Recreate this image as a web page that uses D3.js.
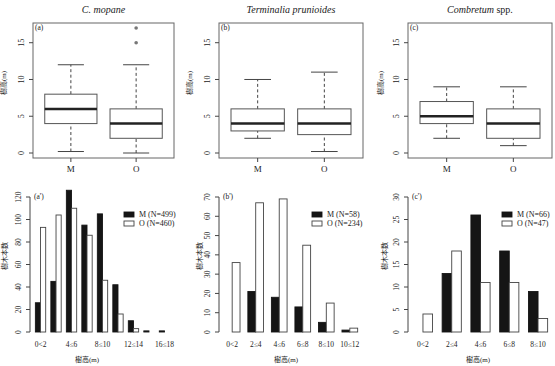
<!DOCTYPE html>
<html>
<head>
<meta charset="utf-8">
<script src="https://cdn.jsdelivr.net/npm/d3@7"></script>
<style>
body { margin: 0; background: #fff; }
svg text { font-family: "Liberation Serif", "Noto Sans CJK JP", serif; fill: #222; }
</style>
</head>
<body>
<svg id="chart" width="555" height="366"></svg>
<script>
// ---- box plots: [lower whisker, Q1, median, Q3, upper whisker] for M and O
var boxGroups = ["M", "O"];
var mopaneBox = [[0.2, 4, 6, 8, 12], [0, 2, 4, 6, 12]];
var mopaneOut = [[], [15, 17]];
var termBox = [[2, 3, 4, 6, 10], [0.2, 2.5, 4, 6, 11]];
var termOut = [[], []];
var combBox = [[2, 4, 5, 7, 9], [1, 2, 4, 6, 9]];
var combOut = [[], []];
var boxTicks = [0, 5, 10, 15];
var boxRange = [0, 17];

// ---- height class histograms (number of trees)
var mopaneClasses = ["0<2", "2≤4", "4≤6", "6≤8", "8≤10", "10≤12", "12≤14", "14≤16", "16≤18"];
var mopaneTickLabels = ["0<2", "", "4≤6", "", "8≤10", "", "12≤14", "", "16≤18"];
var mopaneM = [26, 45, 126, 95, 105, 42, 10, 1, 1];
var mopaneO = [93, 104, 110, 86, 46, 16, 3, 0, 0];
var mopaneTicks = [0, 20, 40, 60, 80, 100, 120];
var mopaneLegend = ["M (N=499)", "O (N=460)"];

var termClasses = ["0<2", "2≤4", "4≤6", "6≤8", "8≤10", "10≤12"];
var termM = [0, 21, 18, 13, 5, 1];
var termO = [36, 67, 69, 45, 15, 2];
var termTicks = [0, 10, 20, 30, 40, 50, 60, 70];
var termLegend = ["M (N=58)", "O (N=234)"];

var combClasses = ["0<2", "2≤4", "4≤6", "6≤8", "8≤10"];
var combM = [0, 13, 26, 18, 9];
var combO = [4, 18, 11, 11, 3];
var combTicks = [0, 5, 10, 15, 20, 25, 30];
var combLegend = ["M (N=66)", "O (N=47)"];

var svg = d3.select("#chart");

//top row layout
var boxTop = 23, boxBottom = 158;
var boxPanels = [
  {title: [["C. mopane", true]], label: "(a)", stats: mopaneBox, out: mopaneOut, left: 33, right: 174, ytx: 4},
  {title: [["Terminalia prunioides", true]], label: "(b)", stats: termBox, out: termOut, left: 219, right: 363, ytx: 190},
  {title: [["Combretum", true], [" spp.", false]], label: "(c)", stats: combBox, out: combOut, left: 408, right: 552, ytx: 381}
];

//bottom row layout
var barZero = 332, barTopTick = 197;
var barPanels = [
  {label: "(a')", classes: mopaneClasses, tickLabels: mopaneTickLabels, m: mopaneM, o: mopaneO, ticks: mopaneTicks, legend: mopaneLegend, left: 30, right: 175, ytx: 5, xtx: 87},
  {label: "(b')", classes: termClasses, tickLabels: termClasses, m: termM, o: termO, ticks: termTicks, legend: termLegend, left: 219, right: 363, ytx: 200, xtx: 286},
  {label: "(c')", classes: combClasses, tickLabels: combClasses, m: combM, o: combO, ticks: combTicks, legend: combLegend, left: 408, right: 553, ytx: 385, xtx: 478}
];

boxPanels.forEach(drawBoxPanel);
barPanels.forEach(drawBarPanel);

//R style 4% axis extension
function extend(lo, hi) {
  var d = (hi - lo) * 0.04;
  return [lo - d, hi + d];
}

function drawBoxPanel(p) {
  var g = svg.append("g");
  var x = d3.scaleLinear().domain(extend(0.5, boxGroups.length + 0.5)).range([p.left, p.right]);
  var y = d3.scaleLinear().domain(extend(boxRange[0], boxRange[1])).range([boxBottom, boxTop]);
  var bw = x(1.4) - x(1); //half box width

  //title
  var t = g.append("text")
    .attr("x", (p.left + p.right) / 2)
    .attr("y", 12.5)
    .attr("text-anchor", "middle")
    .style("font-size", "10px");
  p.title.forEach(function(part) {
    t.append("tspan").text(part[0]).style("font-style", part[1] ? "italic" : "normal");
  });

  //frame
  g.append("rect")
    .attr("x", p.left).attr("y", boxTop)
    .attr("width", p.right - p.left).attr("height", boxBottom - boxTop)
    .attr("fill", "none").attr("stroke", "#666").attr("stroke-width", 1);

  g.append("text").text(p.label)
    .attr("x", p.left + 2).attr("y", 30)
    .style("font-size", "7.5px");

  //y axis ticks
  boxTicks.forEach(function(v) {
    g.append("line")
      .attr("x1", p.left - 4).attr("x2", p.left)
      .attr("y1", y(v)).attr("y2", y(v))
      .attr("stroke", "#444");
    g.append("text").text(v)
      .attr("transform", "translate(" + (p.left - 12) + "," + y(v) + ") rotate(-90)")
      .attr("dy", "0.35em")
      .attr("text-anchor", "middle")
      .style("font-size", "8px");
  });
  g.append("text").text("樹高(m)")
    .attr("transform", "translate(" + p.ytx + "," + 83 + ") rotate(-90)")
    .attr("dy", "0.35em")
    .attr("text-anchor", "middle")
    .style("font-size", "7px");

  p.stats.forEach(function(s, i) {
    var cx = x(i + 1);
    //x tick and label
    g.append("line")
      .attr("x1", cx).attr("x2", cx)
      .attr("y1", boxBottom).attr("y2", boxBottom + 4)
      .attr("stroke", "#444");
    g.append("text").text(boxGroups[i])
      .attr("x", cx).attr("y", 171.5)
      .attr("text-anchor", "middle")
      .style("font-size", "9px");

    //whiskers
    [[s[0], s[1]], [s[3], s[4]]].forEach(function(w) {
      g.append("line")
        .attr("x1", cx).attr("x2", cx)
        .attr("y1", y(w[0])).attr("y2", y(w[1]))
        .attr("stroke", "#444").attr("stroke-dasharray", "3,2.5");
    });
    [s[0], s[4]].forEach(function(v) {
      g.append("line")
        .attr("x1", cx - bw / 2).attr("x2", cx + bw / 2)
        .attr("y1", y(v)).attr("y2", y(v))
        .attr("stroke", "#444");
    });

    //box
    g.append("rect")
      .attr("x", cx - bw).attr("y", y(s[3]))
      .attr("width", bw * 2).attr("height", y(s[1]) - y(s[3]))
      .attr("fill", "#fff").attr("stroke", "#555");
    g.append("line")
      .attr("x1", cx - bw).attr("x2", cx + bw)
      .attr("y1", y(s[2])).attr("y2", y(s[2]))
      .attr("stroke", "#222").attr("stroke-width", 2.5);

    //outliers
    p.out[i].forEach(function(v) {
      g.append("circle")
        .attr("cx", cx).attr("cy", y(v)).attr("r", 1.8)
        .attr("fill", "#777");
    });
  });
}

function drawBarPanel(p) {
  var g = svg.append("g");
  var n = p.classes.length;
  //barplot units: bar pair of group i spans [1+3i, 3+3i]
  var x = d3.scaleLinear().domain(extend(1, 3 * n)).range([p.left, p.right]);
  var y = d3.scaleLinear().domain([0, d3.max(p.ticks)]).range([barZero, barTopTick]);

  //y axis
  g.append("line")
    .attr("x1", p.left).attr("x2", p.left)
    .attr("y1", y(0)).attr("y2", y(d3.max(p.ticks)))
    .attr("stroke", "#444");
  p.ticks.forEach(function(v) {
    g.append("line")
      .attr("x1", p.left - 4).attr("x2", p.left)
      .attr("y1", y(v)).attr("y2", y(v))
      .attr("stroke", "#444");
    g.append("text").text(v)
      .attr("transform", "translate(" + (p.left - 11.5) + "," + y(v) + ") rotate(-90)")
      .attr("dy", "0.35em")
      .attr("text-anchor", "middle")
      .style("font-size", "7.5px");
  });
  g.append("text").text("樹木本数")
    .attr("transform", "translate(" + p.ytx + "," + 256 + ") rotate(-90)")
    .attr("dy", "0.35em")
    .attr("text-anchor", "middle")
    .style("font-size", "7px");
  g.append("text").text("樹高(m)")
    .attr("x", p.xtx).attr("y", 362)
    .attr("text-anchor", "middle")
    .style("font-size", "7px");

  g.append("text").text(p.label)
    .attr("x", p.left + 4).attr("y", 198.5)
    .style("font-size", "7.5px");

  //bars
  p.classes.forEach(function(c, i) {
    var x0 = 1 + 3 * i;
    [[p.m[i], "#151515", "#151515"], [p.o[i], "#fff", "#444"]].forEach(function(b, j) {
      g.append("rect")
        .attr("x", x(x0 + j)).attr("y", y(b[0]))
        .attr("width", x(x0 + j + 1) - x(x0 + j))
        .attr("height", y(0) - y(b[0]))
        .attr("fill", b[1]).attr("stroke", b[2]).attr("stroke-width", 0.9);
    });
    g.append("text").text(p.tickLabels[i])
      .attr("x", x(x0 + 1)).attr("y", 347)
      .attr("text-anchor", "middle")
      .style("font-size", "7.5px");
  });

  //legend
  var lx = p.right - 51;
  [["#151515", "#151515"], ["#fff", "#444"]].forEach(function(c, j) {
    var ly = 214.5 + j * 9;
    g.append("rect")
      .attr("x", lx).attr("y", ly - 2.5)
      .attr("width", 10).attr("height", 5)
      .attr("fill", c[0]).attr("stroke", c[1]).attr("stroke-width", 0.9);
    g.append("text").text(p.legend[j])
      .attr("x", lx + 15).attr("y", ly)
      .attr("dy", "0.35em")
      .style("font-size", "8px");
  });
}
</script>
</body>
</html>
